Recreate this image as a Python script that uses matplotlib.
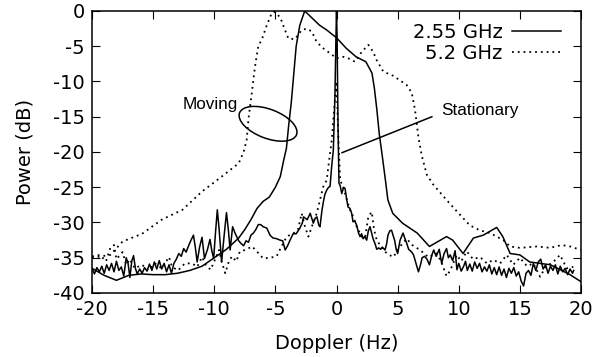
import numpy as np
import matplotlib
matplotlib.use("Agg")
import matplotlib.pyplot as plt
from matplotlib.patches import Ellipse
import matplotlib.transforms as mtransforms

plt.rcParams['font.family'] = 'DejaVu Sans'
plt.rcParams['axes.unicode_minus'] = False

# 2.55 GHz, moving (smooth solid)
f_mov_255 = [-20, -19, -18, -17, -16, -15, -14, -13, -12, -11, -10, -9, -8, -7.5, -7,
             -6.5, -6, -5.5, -5, -4.6, -4.3, -4.1, -3.9, -3.7, -3.5, -3.3, -3.0, -2.6,
             -2.0, -1.4, -0.8, 0, 0.8, 1.6, 2.4, 2.9, 3.1, 3.3, 3.5, 3.7, 4.0, 4.2, 4.6,
             5.4, 6.6, 7.6, 9.0, 9.5, 10.35, 11.2, 12.0, 13.1, 13.6, 14.2, 15.0, 15.8,
             17.5, 18.3, 19.1, 20]
p_mov_255 = [-36.5, -37.5, -38.2, -37.5, -37.3, -37.4, -37.4, -37.2, -36.8, -36.2,
             -35.0, -33.8, -32.2, -31.0, -29.6, -28.0, -27.0, -26.4, -25.0, -23.5,
             -21.0, -19.5, -16.0, -13.0, -9.0, -5.0, -2.0, 0.0, -1.0, -2.0, -2.7, -3.8,
             -5.3, -6.5, -7.2, -8.8, -11.0, -14.0, -17.5, -20.0, -24.0, -26.8, -28.7,
             -30.1, -31.5, -33.4, -32.0, -32.5, -34.4, -32.2, -31.8, -30.7, -32.0,
             -34.4, -34.6, -35.6, -36.0, -36.7, -37.4, -38.4]

# 2.55 GHz, stationary (noisy solid)
f_sta_255 = [-20, -19.8, -19.6, -19.4, -19.2, -19.0, -18.8, -18.6, -18.4, -18.2, -18.0,
             -17.8, -17.6, -17.4, -17.2, -17.05, -16.9, -16.75, -16.6, -16.45, -16.3,
             -16.1, -15.9, -15.7, -15.5, -15.3, -15.1, -14.9, -14.7, -14.5, -14.3, -14.1,
             -13.9, -13.7, -13.5, -13.3, -13.1, -12.9, -12.7, -12.5, -12.3, -12.1, -11.9,
             -11.7, -11.55, -11.4, -11.2, -11.0, -10.8, -10.55, -10.35, -10.2, -10.05,
             -9.9, -9.75, -9.6, -9.4, -9.2, -9.0, -8.85, -8.7, -8.5, -8.3, -8.0, -7.8,
             -7.6, -7.4, -7.2, -7.0, -6.8, -6.6, -6.4, -6.2, -6.0, -5.7, -5.44, -5.2,
             -4.9, -4.62, -4.4, -4.2, -4.0, -3.8, -3.55, -3.3, -3.0, -2.8, -2.7, -2.4,
             -2.15, -1.9, -1.75, -1.6, -1.45, -1.35, -1.2, -1.1, -0.95, -0.8, -0.65,
             -0.53, -0.4, -0.26, -0.13, -0.05, 0.0, 0.05, 0.12, 0.2, 0.3, 0.43, 0.58,
             0.7, 0.82, 0.94, 1.1, 1.24, 1.35, 1.5, 1.65, 1.8, 1.92, 2.05, 2.17, 2.3,
             2.47, 2.6, 2.74, 2.87, 2.99, 3.15, 3.29, 3.45, 3.6, 3.75, 3.97, 4.1, 4.21,
             4.35, 4.5, 4.62, 4.75, 4.88, 5.0, 5.2, 5.44, 5.6, 5.75, 5.9, 6.15, 6.3,
             6.45, 6.7, 6.9, 7.0, 7.2, 7.4, 7.6, 7.8, 7.95, 8.15, 8.4, 8.6, 8.8, 9.0,
             9.15, 9.3, 9.5, 9.7, 9.85, 10.0, 10.2, 10.4, 10.55, 10.7, 10.9, 11.1, 11.3,
             11.5, 11.7, 11.9, 12.1, 12.3, 12.5, 12.7, 12.9, 13.1, 13.3, 13.5, 13.7,
             13.9, 14.1, 14.3, 14.5, 14.7, 14.9, 15.1, 15.3, 15.5, 15.7, 15.9, 16.1,
             16.3, 16.5, 16.7, 16.9, 17.1, 17.3, 17.5, 17.7, 17.9, 18.1, 18.3, 18.5,
             18.7, 18.9, 19.1, 19.3, 19.4]
p_sta_255 = [-36.5, -37.3, -36.4, -37.0, -36.2, -37.2, -36.0, -36.8, -35.8, -37.0, -35.5,
             -36.8, -36.3, -37.6, -35.0, -35.8, -37.8, -35.5, -34.7, -36.5, -37.3,
             -36.6, -37.2, -36.4, -36.9, -35.9, -36.8, -35.6, -36.6, -35.4, -36.6, -35.8,
             -37.0, -36.0, -37.2, -35.8, -35.2, -34.4, -34.8, -33.7, -34.2, -33.3, -32.5,
             -31.8, -33.5, -35.6, -33.5, -32.1, -35.1, -33.8, -32.4, -34.0, -35.1,
             -31.5, -28.2, -31.0, -35.6, -32.0, -28.6, -31.0, -33.9, -30.6, -31.5, -32.6,
             -33.0, -33.3, -32.6, -32.8, -31.8, -31.5, -31.0, -30.3, -30.3, -30.6, -30.8,
             -31.8, -32.2, -32.3, -32.5, -32.6, -33.9, -33.3, -32.5, -31.6, -31.6, -30.8,
             -30.1, -29.2, -29.6, -28.7, -30.1, -29.4, -29.2, -30.4, -30.6, -28.4, -27.3,
             -26.0, -25.4, -25.0, -24.9, -22.1, -19.7, -12.0, -4.0, 0.0, -4.0, -16.0,
             -24.4, -24.8, -25.9, -25.0, -25.2, -26.6, -27.8, -28.0, -28.7, -29.9, -29.8,
             -30.4, -31.5, -32.0, -31.6, -32.3, -32.0, -32.5, -31.2, -30.6, -31.5, -32.3,
             -33.0, -33.8, -33.6, -33.8, -33.5, -33.9, -33.0, -31.8, -31.2, -31.1, -31.8,
             -32.5, -33.8, -34.4, -32.5, -31.5, -32.3, -33.0, -33.8, -34.2, -34.6, -35.5,
             -37.0, -35.8, -35.0, -34.8, -35.2, -36.0, -34.6, -33.9, -34.8, -33.8, -35.8,
             -34.4, -33.7, -35.0, -34.6, -35.4, -34.0, -36.7, -35.8, -36.9, -36.2, -35.5,
             -36.8, -35.9, -36.9, -35.6, -36.5, -35.8, -37.0, -36.3, -36.9, -36.0, -37.3,
             -36.4, -37.4, -36.3, -37.5, -36.6, -37.8, -36.5, -37.2, -36.4, -37.6, -37.0,
             -38.3, -39.0, -37.2, -36.8, -37.5, -35.8, -36.8, -35.6, -35.2, -36.6, -36.0,
             -37.2, -36.2, -36.8, -36.0, -37.3, -36.2, -37.0, -36.5, -37.4, -36.6, -37.2,
             -36.8]

# 5.2 GHz, moving (dotted)
f_mov_52 = [-20, -18.5, -17.5, -15.9, -14.3, -12.6, -11.0, -9.4, -8.0, -7.6, -7.35, -7.2,
            -6.94, -6.67, -6.4, -6.1, -5.7, -5.3, -5.1, -4.6, -4.37, -3.94, -3.4, -2.85,
            -2.44, -2.03, -1.62, -1.08, -0.53, 0.0, 0.56, 1.1, 1.5, 2.06, 2.6, 3.0, 3.29,
            3.83, 4.65, 5.74, 6.15, 6.42, 6.69, 6.97, 7.38, 7.9, 9.0, 9.83, 10.9, 11.7,
            12.56, 13.64, 14.19, 15.0, 16.38, 17.46, 18.42, 19.1, 20]
p_mov_52 = [-35.0, -34.6, -32.7, -31.6, -29.6, -28.2, -25.6, -23.5, -21.6, -20.0, -18.3,
            -15.3, -11.8, -7.9, -5.0, -4.0, -2.0, -0.3, -0.1, -0.9, -2.0, -3.9, -4.0,
            -2.7, -2.5, -2.9, -4.4, -5.3, -6.0, -6.7, -6.5, -6.8, -7.2, -5.8, -4.8, -5.8,
            -7.0, -8.6, -9.2, -10.5, -11.6, -14.0, -17.8, -20.5, -23.2, -24.6, -26.8,
            -28.4, -30.4, -31.1, -31.5, -32.5, -33.4, -33.6, -33.4, -33.6, -33.2, -33.4,
            -33.9]

# 5.2 GHz, stationary (dotted, noisy)
f_sta_52 = [-20, -19.35, -18.85, -18.5, -18.2, -18.0, -17.5, -17.2, -16.9, -16.5, -15.9,
            -15.4, -14.85, -14.3, -13.7, -13.45, -12.96, -12.4, -11.8, -11.4, -11.0,
            -10.7, -10.3, -10.0, -9.6, -9.4, -9.1, -8.8, -8.55, -8.2, -7.9, -7.46, -6.9,
            -6.36, -6.0, -5.4, -4.9, -4.5, -4.07, -3.5, -3.15, -2.85, -2.58, -2.3, -2.0,
            -1.62, -1.35, -1.08, -0.8, -0.67, -0.53, -0.37, -0.2, 0.0, 0.15, 0.3, 0.58,
            0.85, 1.1, 1.37, 1.65, 2.06, 2.33, 2.6, 2.88, 3.07, 3.29, 3.83, 4.2, 4.65,
            5.2, 5.74, 6.2, 6.83, 7.5, 8.2, 8.55, 9.0, 9.3, 9.83, 10.2, 10.65, 11.17,
            11.74, 12.3, 12.83, 13.38, 13.92, 14.46, 15.0, 15.58, 16.1, 16.65, 17.1,
            17.73, 18.28, 18.83, 19.37]
p_sta_52 = [-34.8, -34.6, -35.5, -33.6, -33.2, -35.2, -34.2, -36.0, -35.2, -36.5, -36.0,
            -36.8, -35.8, -36.5, -34.9, -36.3, -36.8, -35.8, -35.8, -36.3, -34.9, -36.0,
            -36.7, -35.5, -33.9, -35.5, -37.2, -35.5, -34.8, -35.5, -34.1, -33.9, -33.4,
            -34.4, -35.1, -35.0, -34.8, -33.4, -32.0, -31.5, -31.0, -28.7, -30.6, -32.0,
            -30.5, -28.7, -26.8, -24.9, -24.0, -22.1, -20.2, -18.0, -14.0, -10.0, -18.0,
            -24.0, -25.2, -26.8, -28.2, -29.2, -30.6, -32.0, -32.2, -29.2, -28.5, -31.0,
            -32.5, -33.9, -34.5, -34.9, -33.4, -32.3, -33.2, -33.9, -34.9, -34.4, -35.5,
            -37.6, -36.8, -34.6, -35.5, -34.1, -35.2, -34.9, -35.8, -35.3, -35.8, -34.6,
            -36.0, -35.0, -36.2, -35.8, -37.7, -36.3, -35.6, -34.6, -36.5, -36.3]

labels = ["2.55 GHz", "5.2 GHz"]

fig = plt.figure(figsize=(6.04, 3.57), dpi=100)
ax = fig.add_axes([0.1523, 0.1793, 0.8097, 0.7899])

dot = (0, (1, 2.2))
l1, = ax.plot(f_mov_255, p_mov_255, color='black', lw=1.1)
ax.plot(f_sta_255, p_sta_255, color='black', lw=1.1)
l2, = ax.plot(f_mov_52, p_mov_52, color='black', lw=1.3, ls=dot)
ax.plot(f_sta_52, p_sta_52, color='black', lw=1.3, ls=dot)

ax.set_xlim(-20, 20)
ax.set_ylim(-40, 0)
ax.set_xticks(np.arange(-20, 21, 5))
ax.set_yticks(np.arange(-40, 1, 5))
ax.tick_params(direction='in', top=True, right=True, length=6, width=0.8,
               labelsize=14, pad=5)
for s in ax.spines.values():
    s.set_linewidth(1.1)
ax.set_xlabel("Doppler (Hz)", fontsize=14, labelpad=11)
ax.set_ylabel("Power (dB)", fontsize=14, labelpad=13)

leg = ax.legend([l1, l2], labels, loc='upper right', frameon=False, markerfirst=False,
                fontsize=14, handlelength=2.5, handletextpad=0.5, labelspacing=0.1,
                borderaxespad=0.0, bbox_to_anchor=(0.975, 0.985))

# annotations
ell_center = (-5.6, -16.0)
trans = fig.dpi_scale_trans + mtransforms.ScaledTranslation(ell_center[0], ell_center[1], ax.transData)
ax.add_patch(Ellipse((0, 0), 0.61, 0.29, angle=-21, fill=False, lw=1.1,
                     edgecolor='black', transform=trans))
ax.text(-12.58, -13.86, "Moving", fontsize=12.3, family='Liberation Sans',
        ha='left', va='baseline')
ax.text(8.6, -14.75, "Stationary", fontsize=12.3, family='Liberation Sans',
        ha='left', va='baseline')
ax.plot([7.8, 0.45], [-15.0, -20.1], color='black', lw=1.1)

fig.savefig("out.png", dpi=100)
